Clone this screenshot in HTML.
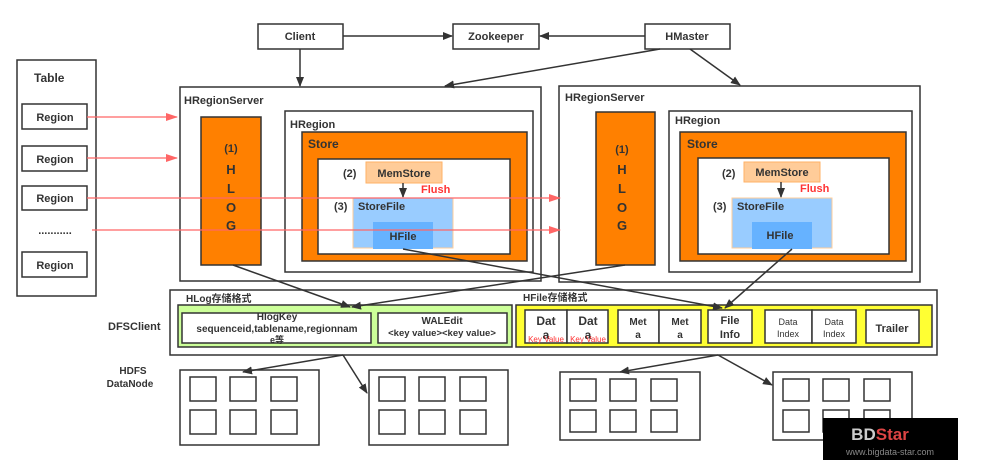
<!DOCTYPE html>
<html><head><meta charset="utf-8"><style>
body{margin:0;background:#fff}
svg{display:block}
text{font-family:"Liberation Sans","Noto Sans CJK SC",sans-serif;font-weight:bold;fill:#333}
</style></head><body>
<svg width="983" height="464" viewBox="0 0 983 464" xmlns="http://www.w3.org/2000/svg">
<defs>
<marker id="a" markerWidth="10" markerHeight="8" refX="9" refY="4" orient="auto" markerUnits="userSpaceOnUse"><path d="M0,0 L10,4 L0,8 z" fill="#333"/></marker>
<marker id="r" markerWidth="12" markerHeight="8" refX="11" refY="4" orient="auto" markerUnits="userSpaceOnUse"><path d="M0,0 L12,4 L0,8 z" fill="#f66"/></marker>
</defs>
<g stroke="#333" stroke-width="1.5" fill="#fff">
<rect x="258" y="24" width="85" height="25"/>
<rect x="453" y="24" width="86" height="25"/>
<rect x="645" y="24" width="85" height="25"/>
<rect x="17" y="60" width="79" height="236"/>
<rect x="22" y="104" width="65" height="25"/>
<rect x="22" y="146" width="65" height="25"/>
<rect x="22" y="186" width="65" height="24"/>
<rect x="22" y="252" width="65" height="25"/>
<rect x="180" y="87" width="361" height="194"/>
<rect x="201" y="117" width="60" height="148" fill="#ff8000"/>
<rect x="285" y="111" width="248" height="161"/>
<rect x="302" y="132" width="225" height="129" fill="#ff8000"/>
<rect x="318" y="159" width="192" height="95"/>
<rect x="559" y="86" width="361" height="196"/>
<rect x="596" y="112" width="59" height="153" fill="#ff8000"/>
<rect x="669" y="111" width="243" height="161"/>
<rect x="680" y="132" width="226" height="129" fill="#ff8000"/>
<rect x="698" y="158" width="191" height="96"/>
<rect x="170" y="290" width="767" height="65"/>
<rect x="178" y="305" width="334" height="42" fill="#ccff99"/>
<rect x="182" y="313" width="189" height="30"/>
<rect x="378" y="313" width="129" height="30"/>
<rect x="516" y="305" width="416" height="42" fill="#ffff33"/>
<rect x="525" y="310" width="42" height="33"/><rect x="567" y="310" width="41" height="33"/>
<rect x="618" y="310" width="41" height="33"/><rect x="659" y="310" width="42" height="33"/>
<rect x="708" y="310" width="44" height="33"/>
<rect x="765" y="310" width="47" height="33"/><rect x="812" y="310" width="44" height="33"/>
<rect x="866" y="310" width="53" height="33"/>
<rect x="180" y="370" width="139" height="75"/>
<rect x="369" y="370" width="139" height="75"/>
<rect x="560" y="372" width="140" height="68"/>
<rect x="773" y="372" width="139" height="68"/>
</g>
<g stroke="#333" stroke-width="1.5" fill="none">
<path d="M190,377h26v24h-26z M230,377h26v24h-26z M271,377h26v24h-26z M190,410h26v24h-26z M230,410h26v24h-26z M271,410h26v24h-26z"/>
<path d="M379,377h26v24h-26z M419,377h26v24h-26z M460,377h26v24h-26z M379,410h26v24h-26z M419,410h26v24h-26z M460,410h26v24h-26z"/>
<path d="M570,379h26v22h-26z M610,379h26v22h-26z M651,379h26v22h-26z M570,410h26v22h-26z M610,410h26v22h-26z M651,410h26v22h-26z"/>
<path d="M783,379h26v22h-26z M823,379h26v22h-26z M864,379h26v22h-26z M783,410h26v22h-26z M823,410h26v22h-26z M864,410h26v22h-26z"/>
</g>
<rect x="366" y="162" width="76" height="21" fill="#ffcc99" stroke="#ffb266"/>
<rect x="353" y="198" width="100" height="50" fill="#99ccff" stroke="#ffcc99"/>
<rect x="373" y="222" width="60" height="27" fill="#66b2ff"/>
<rect x="744" y="162" width="76" height="20" fill="#ffcc99" stroke="#ffb266"/>
<rect x="732" y="198" width="100" height="50" fill="#99ccff" stroke="#ffcc99"/>
<rect x="752" y="222" width="60" height="27" fill="#66b2ff"/>
<g stroke="#333" stroke-width="1.5" marker-end="url(#a)">
<line x1="343" y1="36" x2="452" y2="36"/>
<line x1="645" y1="36" x2="540" y2="36"/>
<line x1="300" y1="49" x2="300" y2="86"/>
<line x1="660" y1="49" x2="445" y2="86"/>
<line x1="690" y1="49" x2="740" y2="85"/>
<line x1="403" y1="183" x2="403" y2="197"/>
<line x1="781" y1="182" x2="781" y2="197"/>
<line x1="233" y1="265" x2="350" y2="307"/>
<line x1="625" y1="265" x2="352" y2="307"/>
<line x1="403" y1="249" x2="722" y2="308"/>
<line x1="792" y1="249" x2="725" y2="308"/>
<line x1="343" y1="355" x2="243" y2="372"/>
<line x1="343" y1="355" x2="367" y2="393"/>
<line x1="718" y1="355" x2="620" y2="372"/>
<line x1="718" y1="355" x2="772" y2="385"/>
</g>
<g stroke="#f66" stroke-width="1.2" marker-end="url(#r)">
<line x1="87" y1="117" x2="177" y2="117"/>
<line x1="87" y1="158" x2="177" y2="158"/>
<line x1="87" y1="198" x2="560" y2="198"/>
<line x1="92" y1="230" x2="560" y2="230"/>
</g>
<g font-size="11">
<text x="300" y="40" text-anchor="middle">Client</text>
<text x="496" y="40" text-anchor="middle">Zookeeper</text>
<text x="687" y="40" text-anchor="middle">HMaster</text>
<text x="34" y="82" font-size="12">Table</text>
<text x="55" y="121" text-anchor="middle">Region</text>
<text x="55" y="163" text-anchor="middle">Region</text>
<text x="55" y="202" text-anchor="middle">Region</text>
<text x="55" y="234" text-anchor="middle">...........</text>
<text x="55" y="269" text-anchor="middle">Region</text>
<text x="184" y="104">HRegionServer</text>
<text x="290" y="128">HRegion</text>
<text x="308" y="148" font-size="12">Store</text>
<text x="231" y="152" text-anchor="middle">(1)</text>
<text x="231" y="174" text-anchor="middle" font-size="13">H</text>
<text x="231" y="193" text-anchor="middle" font-size="13">L</text>
<text x="231" y="212" text-anchor="middle" font-size="13">O</text>
<text x="231" y="230" text-anchor="middle" font-size="13">G</text>
<text x="343" y="177">(2)</text>
<text x="404" y="177" text-anchor="middle">MemStore</text>
<text x="421" y="193" fill="#f33" style="fill:#f33">Flush</text>
<text x="334" y="210">(3)</text>
<text x="358" y="210">StoreFile</text>
<text x="403" y="240" text-anchor="middle">HFile</text>
<text x="565" y="101">HRegionServer</text>
<text x="675" y="124">HRegion</text>
<text x="687" y="148" font-size="12">Store</text>
<text x="622" y="153" text-anchor="middle">(1)</text>
<text x="622" y="174" text-anchor="middle" font-size="13">H</text>
<text x="622" y="193" text-anchor="middle" font-size="13">L</text>
<text x="622" y="212" text-anchor="middle" font-size="13">O</text>
<text x="622" y="230" text-anchor="middle" font-size="13">G</text>
<text x="722" y="177">(2)</text>
<text x="782" y="176" text-anchor="middle">MemStore</text>
<text x="800" y="192" style="fill:#f33">Flush</text>
<text x="713" y="210">(3)</text>
<text x="737" y="210">StoreFile</text>
<text x="780" y="239" text-anchor="middle">HFile</text>
<text x="108" y="330" font-size="11">DFSClient</text>
<text x="186" y="302" font-size="10">HLog存储格式</text>
<text x="523" y="301" font-size="10">HFile存储格式</text>
<text x="277" y="320" text-anchor="middle" font-size="10">HlogKey</text>
<text x="277" y="332" text-anchor="middle" font-size="10">sequenceid,tablename,regionnam</text>
<text x="277" y="343" text-anchor="middle" font-size="9">e等</text>
<text x="442" y="324" text-anchor="middle" font-size="10">WALEdit</text>
<text x="442" y="336" text-anchor="middle" font-size="9.5">&lt;key value&gt;&lt;key value&gt;</text>
<text x="546" y="325" text-anchor="middle" font-size="12">Dat</text>
<text x="546" y="339" text-anchor="middle" font-size="12">a</text>
<text x="588" y="325" text-anchor="middle" font-size="12">Dat</text>
<text x="588" y="339" text-anchor="middle" font-size="12">a</text>
<text x="546" y="342" text-anchor="middle" font-size="8" style="fill:#f33;font-weight:normal">Key Value</text>
<text x="588" y="342" text-anchor="middle" font-size="8" style="fill:#f33;font-weight:normal">Key Value</text>
<text x="638" y="325" text-anchor="middle" font-size="10">Met</text>
<text x="638" y="338" text-anchor="middle" font-size="10">a</text>
<text x="680" y="325" text-anchor="middle" font-size="10">Met</text>
<text x="680" y="338" text-anchor="middle" font-size="10">a</text>
<text x="730" y="324" text-anchor="middle" font-size="11">File</text>
<text x="730" y="338" text-anchor="middle" font-size="11">Info</text>
<text x="788" y="325" text-anchor="middle" font-size="9" style="font-weight:normal">Data</text>
<text x="788" y="337" text-anchor="middle" font-size="9" style="font-weight:normal">Index</text>
<text x="834" y="325" text-anchor="middle" font-size="9" style="font-weight:normal">Data</text>
<text x="834" y="337" text-anchor="middle" font-size="9" style="font-weight:normal">Index</text>
<text x="892" y="332" text-anchor="middle" font-size="11">Trailer</text>
<text x="133" y="374" text-anchor="middle" font-size="10">HDFS</text>
<text x="130" y="387" text-anchor="middle" font-size="10">DataNode</text>
</g>
<rect x="823" y="418" width="135" height="42" fill="#000"/>
<text x="880" y="440" text-anchor="middle" font-size="17" style="fill:#d44;font-weight:bold"><tspan style="fill:#ccc">BD</tspan>Star</text>
<text x="890" y="455" text-anchor="middle" font-size="9" style="fill:#888;font-weight:normal">www.bigdata-star.com</text>
</svg>
</body></html>
